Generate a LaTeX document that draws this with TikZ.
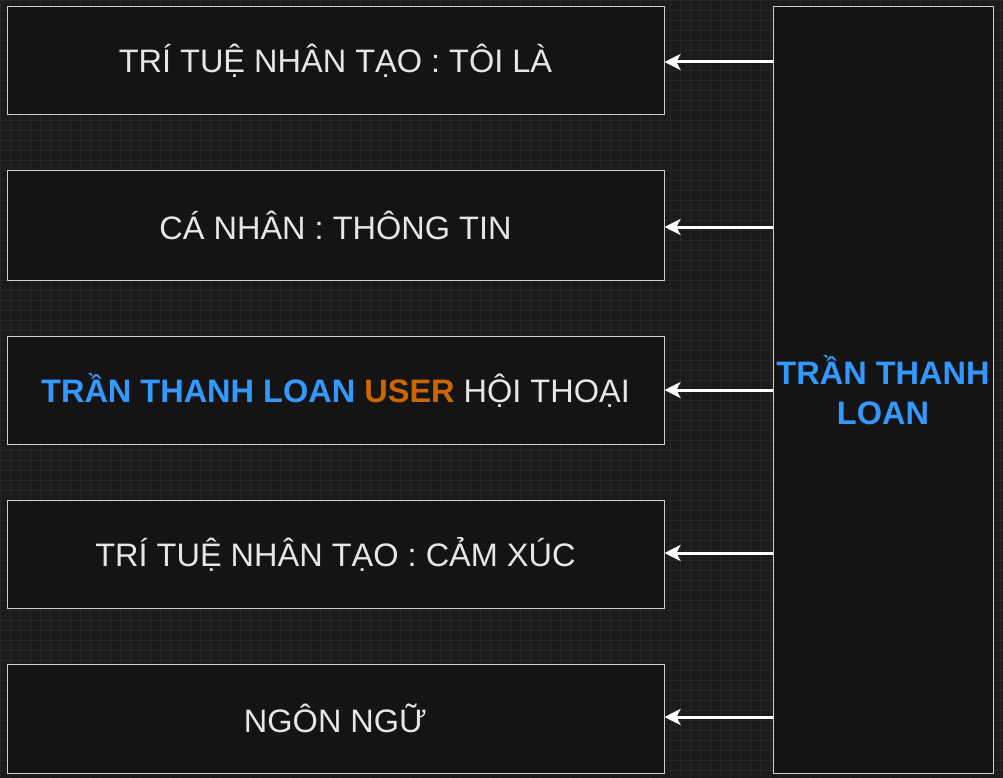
\documentclass[tikz,border=0pt]{standalone}
\usepackage{fontspec}
\setmainfont{Liberation Sans}
\usetikzlibrary{arrows.meta}
\definecolor{bg}{HTML}{1B1B1B}
\definecolor{gridc}{HTML}{262626}
\definecolor{boxf}{HTML}{141414}
\definecolor{boxd}{HTML}{D0D0D0}
\definecolor{txt}{HTML}{E6E6E6}
\definecolor{blu}{HTML}{3399FF}
\definecolor{org}{HTML}{CC6600}
\begin{document}
\begin{tikzpicture}[x=1pt,y=-1pt,
  box/.style={draw=boxd,fill=boxf,line width=1pt,inner sep=0pt,text=txt,font=\fontsize{32.5}{38}\selectfont},
  arr/.style={draw=white,line width=3pt,-{Stealth[length=16pt,width=16pt,inset=4pt]}}]
\fill[bg] (0,0) rectangle (1003,778);
\useasboundingbox (0,0) rectangle (1003,778);
\draw[gridc,line width=0.5pt,step=10pt] (0,0) grid (1003,778);
\node[box,minimum width=657pt,minimum height=108pt] (a) at (335.5,61) {TRÍ TUỆ NHÂN TẠO : TÔI LÀ};
\node[box,minimum width=657pt,minimum height=109pt] (b) at (335.5,225.5) {CÁ NHÂN : THÔNG TIN};
\node[box,minimum width=657pt,minimum height=108pt] (c) at (335.5,390) {\textbf{\color{blu}TRẦN THANH LOAN} \textbf{\color{org}USER} HỘI THOẠI};
\node[box,minimum width=657pt,minimum height=108pt] (d) at (335.5,554) {TRÍ TUỆ NHÂN TẠO : CẢM XÚC};
\node[box,minimum width=657pt,minimum height=109pt] (e) at (335.5,718.5) {NGÔN NGỮ};
\node[box,minimum width=220pt,minimum height=766pt,align=center,text=blu,font=\fontsize{32.5}{40}\selectfont\bfseries] (r) at (883,390) {TRẦN THANH\\LOAN};
\foreach \n/\y in {a/62,b/227,c/390,d/553,e/717}
  \draw[arr] (r.west |- 0,\y) -- (\n.east |- 0,\y);
\end{tikzpicture}
\end{document}
